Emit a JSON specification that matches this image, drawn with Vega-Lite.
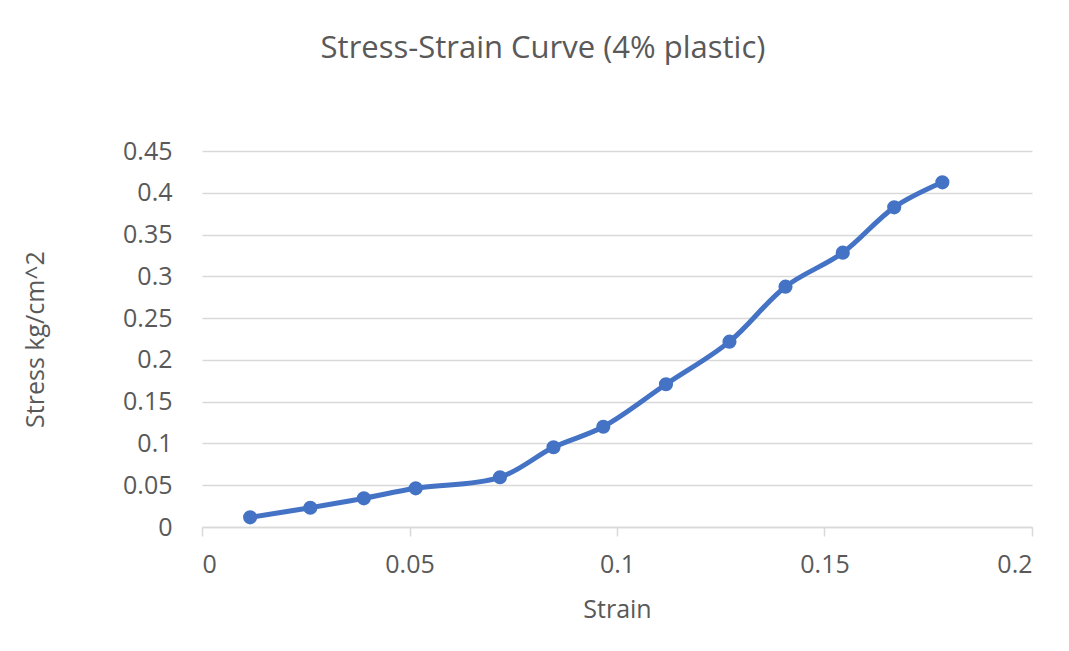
{
  "$schema": "https://vega.github.io/schema/vega-lite/v6.json",
  "width": 830,
  "height": 376,
  "autosize": {"type": "none"},
  "padding": {"left": 202, "top": 151, "right": 37, "bottom": 124},
  "background": "white",
  "title": {
    "text": "Stress-Strain Curve (4% plastic)",
    "font": "Open Sans",
    "fontSize": 31,
    "fontWeight": "normal",
    "color": "#595959",
    "anchor": "middle",
    "dx": -74,
    "offset": 74
  },
  "data": {
    "values": [
      {"strain": 0.0116, "stress": 0.0116},
      {"strain": 0.0261, "stress": 0.0231},
      {"strain": 0.0390, "stress": 0.0343},
      {"strain": 0.0515, "stress": 0.0463},
      {"strain": 0.0718, "stress": 0.0595},
      {"strain": 0.0847, "stress": 0.0954},
      {"strain": 0.0967, "stress": 0.1200},
      {"strain": 0.1118, "stress": 0.1708},
      {"strain": 0.1271, "stress": 0.2218},
      {"strain": 0.1406, "stress": 0.2876},
      {"strain": 0.1544, "stress": 0.3283},
      {"strain": 0.1668, "stress": 0.3826},
      {"strain": 0.1784, "stress": 0.4125}
    ]
  },
  "encoding": {
    "x": {
      "field": "strain",
      "type": "quantitative",
      "title": "Strain",
      "scale": {"domain": [0, 0.2], "nice": false, "zero": true},
      "axis": {
        "values": [0, 0.05, 0.1, 0.15, 0.2],
        "grid": false,
        "domainColor": "#d9d9d9",
        "domainWidth": 1.5,
        "tickColor": "#d9d9d9",
        "tickWidth": 1.5,
        "tickSize": 9,
        "labelPadding": 16,
        "titlePadding": 20,
        "format": "~g"
      }
    },
    "y": {
      "field": "stress",
      "type": "quantitative",
      "title": "Stress kg/cm^2",
      "scale": {"domain": [0, 0.45], "nice": false},
      "axis": {
        "values": [0, 0.05, 0.1, 0.15, 0.2, 0.25, 0.3, 0.35, 0.4, 0.45],
        "grid": true,
        "gridColor": "#d9d9d9",
        "gridWidth": 1.5,
        "domain": false,
        "ticks": false,
        "labelPadding": 30,
        "titlePadding": 74,
        "format": "~g"
      }
    }
  },
  "layer": [
    {
      "mark": {"type": "line", "interpolate": "catmull-rom", "color": "#4472C4", "strokeWidth": 5}
    },
    {
      "mark": {"type": "point", "filled": true, "opacity": 1, "color": "#4472C4", "size": 200}
    }
  ],
  "config": {
    "view": {"stroke": null},
    "axis": {
      "labelFont": "Open Sans",
      "labelFontSize": 25,
      "labelColor": "#595959",
      "titleFont": "Open Sans",
      "titleFontSize": 25,
      "titleFontWeight": "normal",
      "titleColor": "#595959"
    }
  }
}
